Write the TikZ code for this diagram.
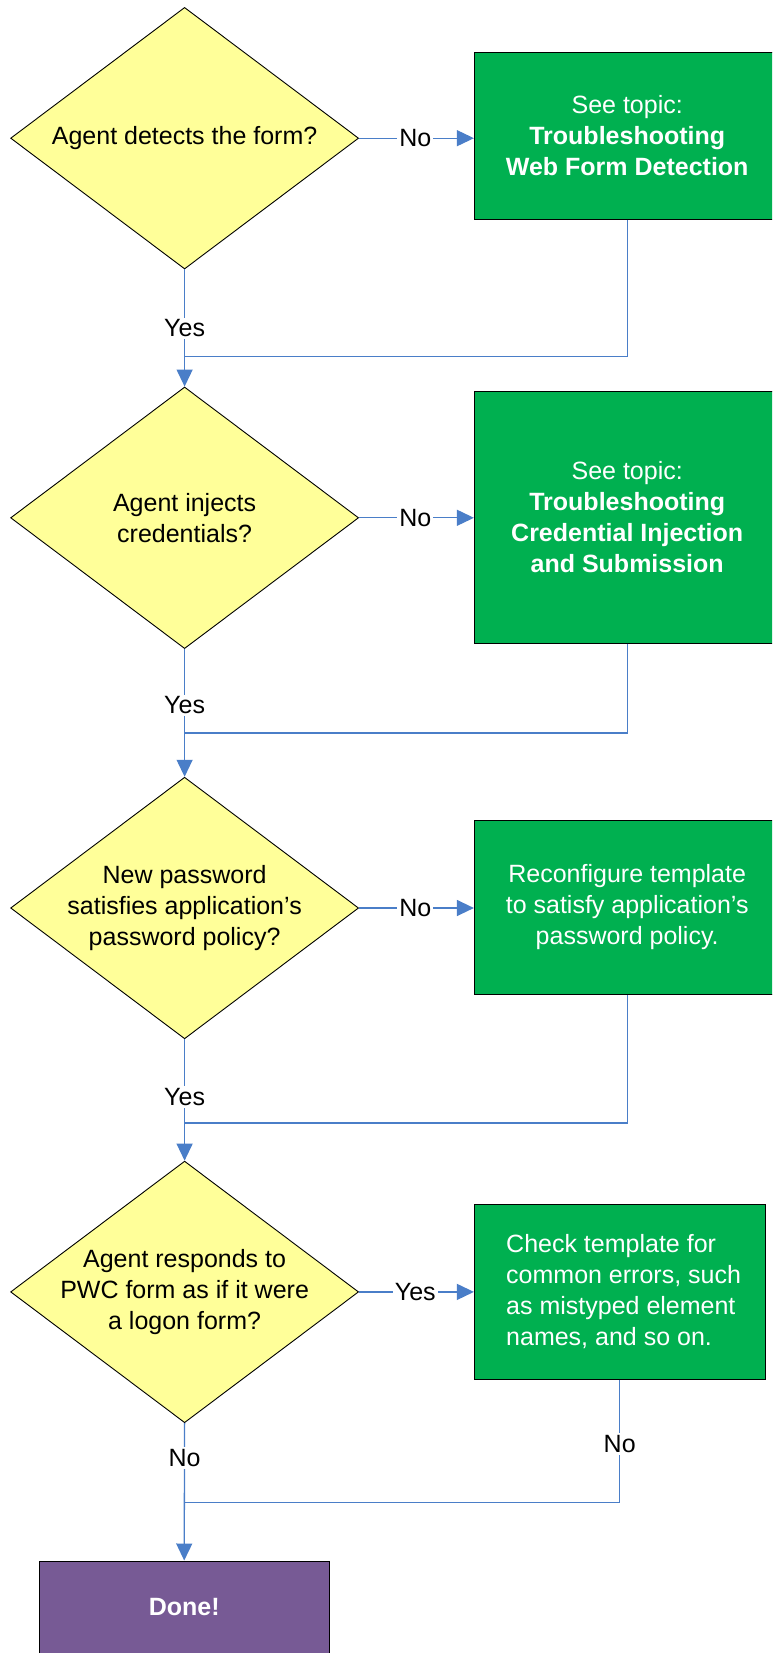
\documentclass[tikz,border=0pt]{standalone}
\usepackage{fontspec}
\setmainfont{Liberation Sans}
\usetikzlibrary{shapes.geometric,arrows.meta}
\definecolor{dyellow}{HTML}{FFFF99}
\definecolor{bgreen}{HTML}{00B050}
\definecolor{dpurple}{HTML}{775A95}
\definecolor{lblue}{HTML}{4A7EC8}
\tikzset{
  txt/.style={font=\fontsize{25}{31}\selectfont, align=center, inner sep=0pt},
  dia/.style={shape=diamond, draw=black, line width=0.9pt, fill=dyellow, inner sep=0pt,
    minimum width=348pt, minimum height=261.6pt},
  gbox/.style={rectangle, draw=black, line width=1pt, fill=bgreen, inner sep=0pt},
  conn/.style={draw=lblue, line width=1.3pt},
  arr/.style={conn, -{Triangle[length=17pt,width=16pt]}},
  lbl/.style={font=\fontsize{25}{31}\selectfont, fill=white, inner sep=2pt},
}
\begin{document}
\begin{tikzpicture}[x=1pt,y=-1pt]
\useasboundingbox (0,0) rectangle (772,1653);
\clip (0,0) rectangle (772,1653);
\fill[white] (0,0) rectangle (772,1653);

% decision 1
\node[dia] (d1) at (184.6,138.2) {};
\node[txt] (d1t) at (d1.center) {Agent detects the form?};
\node[gbox, minimum width=305.6pt, minimum height=167pt] (b1) at (627.2,135.8) {};
\node[txt, text=white] (b1t) at (b1.center) {See topic:\\\textbf{Troubleshooting}\\\textbf{Web Form Detection}};

% decision 2
\node[dia] (d2) at (184.6,517.8) {};
\node[txt] (d2t) at (d2.center) {Agent injects\\credentials?};
\node[gbox, minimum width=305.6pt, minimum height=252pt] (b2) at (627.2,517) {};
\node[txt, text=white] (b2t) at (b2.center) {See topic:\\\textbf{Troubleshooting}\\\textbf{Credential Injection}\\\textbf{and Submission}};

% decision 3
\node[dia] (d3) at (184.6,908) {};
\node[txt] (d3t) at (d3.center) {New password\\satisfies application’s\\password policy?};
\node[gbox, minimum width=305.6pt, minimum height=174pt] (b3) at (627.2,907.5) {};
\node[txt, text=white] (b3t) at (b3.center) {Reconfigure template\\to satisfy application’s\\password policy.};

% decision 4
\node[dia] (d4) at (184.6,1291.9) {};
\node[txt] (d4t) at (d4.center) {Agent responds to\\PWC form as if it were\\a logon form?};
\node[gbox, minimum width=290.6pt, minimum height=175pt] (b4) at (619.7,1291.8) {};
\node[txt, align=left, anchor=west, text=white] (b4t) at (506,1291.8) {Check template for\\common errors, such\\as mistyped element\\names, and so on.};

% done
\node[rectangle, draw=black, line width=1pt, fill=dpurple, minimum width=289.6pt, minimum height=92pt, inner sep=0pt] (done) at (184.2,1607) {};
\node[txt, text=white] (donet) at (done.center) {\textbf{Done!}};

% junction coordinates
\coordinate (j1) at (184.6,356.7);
\coordinate (j2) at (184.6,733);
\coordinate (j3) at (184.6,1123);
\coordinate (j4) at (184.6,1502.7);

% No branches
\draw[arr] (d1.east) -- node[lbl, pos=0.49] {No} (b1.west |- d1.east);
\draw[arr] (d2.east) -- node[lbl, pos=0.49] {No} (b2.west |- d2.east);
\draw[arr] (d3.east) -- node[lbl, pos=0.49] {No} (b3.west |- d3.east);
\draw[arr] (d4.east) -- node[lbl, pos=0.49] {Yes} (b4.west |- d4.east);

% return lines
\draw[conn] (b1.south) |- (j1);
\draw[conn] (b2.south) |- (j2);
\draw[conn] (b3.south) |- (j3);
\draw[conn] (b4.south) -- node[lbl, pos=0.524] {No} (b4.south |- j4) -- (j4);

% main flow
\draw[arr] (d1.south) -- node[lbl, pos=0.503] {Yes} (d2.north);
\draw[arr] (d2.south) -- node[lbl, pos=0.44] {Yes} (d3.north);
\draw[arr] (d3.south) -- node[lbl, pos=0.474] {Yes} (d4.north);
\draw[arr] (d4.south) -- node[lbl, pos=0.255] {No} (done.north);
\end{tikzpicture}
\end{document}
